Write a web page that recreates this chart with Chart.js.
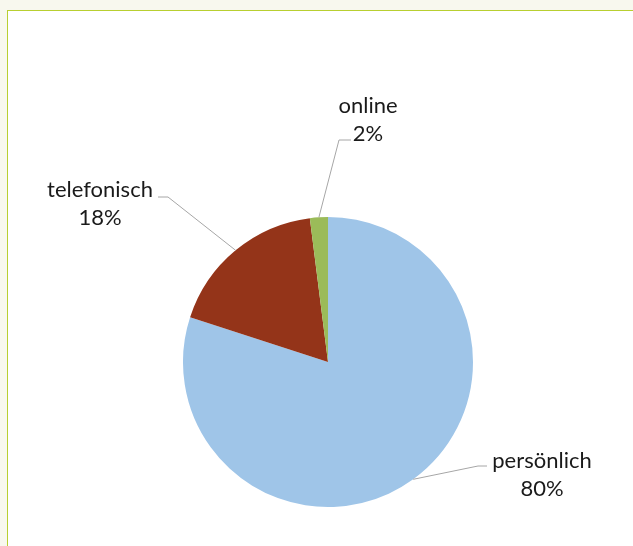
<!DOCTYPE html>
<html>
<head>
<meta charset="utf-8">
<script src="https://cdn.jsdelivr.net/npm/chart.js@4/dist/chart.umd.min.js"></script>
<style>
  html, body { margin: 0; padding: 0; background: #f8f8ee; overflow: hidden; }
  #frame { position: absolute; left: 7px; top: 10px; width: 700px; height: 600px;
           background: #fff; border: 1px solid #b8cf30; }
  #wrap { position: absolute; left: 0; top: 0; width: 633px; height: 546px; }
</style>
</head>
<body>
<div id="frame"></div>
<div id="wrap"><canvas id="chart-area" width="633" height="546"></canvas></div>
<script>
var categories = ['persönlich', 'telefonisch', 'online'];
var shares = [80, 18, 2];
var colors = ['#9fc5e8', '#943419', '#9bbb59'];

// where the label text sits (centre x, first baseline) and the elbow of its leader line
var labelSpots = [
    { x: 542, y: 468, elbowX: 478, endX: 487, lineY: 466 },
    { x: 100, y: 197, elbowX: 168, endX: 158, lineY: 197 },
    { x: 368, y: 113, elbowX: 339, endX: 351, lineY: 140 }
];

var leaderLabels = {
    id: 'leaderLabels',
    afterDatasetsDraw: function (chart) {
        var ctx = chart.ctx;
        var meta = chart.getDatasetMeta(0);
        ctx.save();
        meta.data.forEach(function (arc, i) {
            var p = arc.getProps(['x', 'y', 'startAngle', 'endAngle', 'outerRadius'], true);
            var mid = (p.startAngle + p.endAngle) / 2;
            var ax = p.x + Math.cos(mid) * p.outerRadius;
            var ay = p.y + Math.sin(mid) * p.outerRadius;
            var s = labelSpots[i];
            ctx.strokeStyle = '#a6a6a6';
            ctx.lineWidth = 1;
            ctx.beginPath();
            ctx.moveTo(ax, ay);
            ctx.lineTo(s.elbowX, s.lineY);
            ctx.lineTo(s.endX, s.lineY);
            ctx.stroke();

            ctx.fillStyle = '#1a1a1a';
            ctx.font = '22px Lato';
            ctx.textAlign = 'center';
            ctx.textBaseline = 'alphabetic';
            ctx.fillText(categories[i], s.x, s.y);
            ctx.fillText(shares[i] + '%', s.x, s.y + 28);
        });
        ctx.restore();
    }
};

window.onload = function () {
    var ctx = document.getElementById('chart-area').getContext('2d');
    window.myPie = new Chart(ctx, {
        type: 'pie',
        data: {
            labels: categories,
            datasets: [{
                data: shares,
                backgroundColor: colors,
                borderWidth: 0
            }]
        },
        options: {
            responsive: false,
            animation: false,
            layout: { padding: { left: 183, right: 160, top: 217, bottom: 39 } },
            plugins: {
                legend: { display: false },
                tooltip: { enabled: false }
            }
        },
        plugins: [leaderLabels]
    });
};
</script>
</body>
</html>
